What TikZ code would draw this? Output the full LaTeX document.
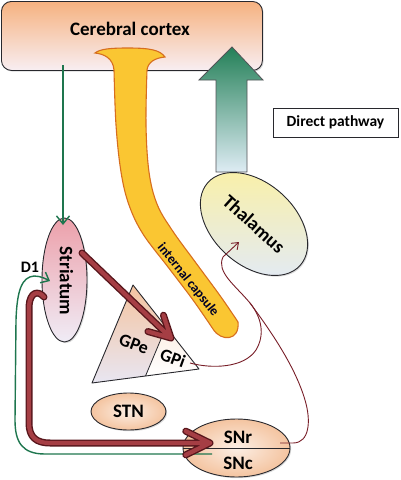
\documentclass[tikz,border=0pt]{standalone}
\usepackage{fontspec}
\setmainfont{Carlito}
\usetikzlibrary{shapes.geometric,calc,arrows.meta,shadows}
\definecolor{cortexTop}{RGB}{246,178,128}
\definecolor{cortexBot}{RGB}{248,238,242}
\definecolor{capFill}{RGB}{250,198,50}
\definecolor{capLine}{RGB}{215,110,30}
\definecolor{arrTop}{RGB}{36,128,88}
\definecolor{arrBot}{RGB}{222,236,244}
\definecolor{gline}{RGB}{30,118,78}
\definecolor{rOut}{RGB}{88,22,28}
\definecolor{rIn}{RGB}{165,62,68}
\definecolor{thinr}{RGB}{120,30,40}
\definecolor{edge}{RGB}{40,40,45}
\definecolor{thalY}{RGB}{250,240,165}
\definecolor{thalW}{RGB}{226,234,246}
\definecolor{strTop}{RGB}{236,160,170}
\definecolor{strBot}{RGB}{240,236,246}
\definecolor{peach}{RGB}{244,196,160}
\definecolor{peachL}{RGB}{252,238,228}
\definecolor{lav}{RGB}{232,230,242}
\begin{document}
\begin{tikzpicture}[x=1pt,y=-1pt,
  lbl/.style={font=\bfseries\fontsize{19}{21}\selectfont, text=black},
  shp/.style={draw=edge, line width=0.9pt},
  shd/.style={drop shadow={opacity=0.3, shadow xshift=1.2pt, shadow yshift=-1.2pt}},
  thickred/.style={line width=4.2pt, draw=rIn, line cap=round, line join=round,
    preaction={draw=rOut, line width=7pt, line cap=round, line join=round}},
  greenline/.style={draw=gline, line width=1.4pt},
  thinred/.style={draw=thinr, line width=0.9pt},
]
\useasboundingbox (0,0) rectangle (400,480);

% cerebral cortex
\node[shp, shd, rounded corners=10pt, minimum width=261, minimum height=69,
  top color=cortexTop, bottom color=cortexBot, anchor=north west, inner sep=0] (cortex) at (1,1) {};
\node[lbl] (cortexlbl) at (130,29) {Cerebral cortex};

% internal capsule
\path[fill=capFill, draw=capLine, line width=1.1pt]
  (95,53) .. controls (104,54) and (113,58) .. (114,70)
  -- plot[smooth, tension=0.6] coordinates {(114,70) (116,125) (121,172) (129,205) (143,234) (168,267) (193,300) (213,329)}
  .. controls (221,342) and (240,341) .. (238,322)
  -- plot[smooth, tension=0.6] coordinates {(238,322) (221,297) (196,263) (172,230) (157,204) (149,172) (146,125) (147,70)}
  .. controls (148,62) and (155,58) .. (165,57)
  .. controls (160,50) and (150,48) .. (128,48)
  .. controls (110,48) and (100,49) .. (95,53) -- cycle;
\node[font=\bfseries\fontsize{13.5}{15}\selectfont, text=black!85!blue, rotate=-51] (iclbl) at (188,280) {internal capsule};

% big green arrow (thalamus -> cortex)
\path[draw=edge!80, line width=0.8pt, top color=arrTop, bottom color=arrBot]
  (232,47) -- (263,80) -- (247,80) -- (247,172) -- (216,172) -- (216,80) -- (199,80) -- cycle;

% thalamus
\node[shp, shd, ellipse, minimum width=124, minimum height=82, rotate=-42,
  top color=thalY, bottom color=thalW, lbl, inner sep=0] (thal) at (254,224) {Thalamus};

% direct pathway
\node[draw=edge, line width=0.9pt, fill=white, shd, minimum width=125, minimum height=29,
  font=\bfseries\fontsize{15.5}{17}\selectfont] (dp) at (335.5,122.5) {Direct pathway};

% striatum
\node[shp, shd, ellipse, minimum width=45, minimum height=124,
  top color=strTop, bottom color=strBot] (str) at (64.5,280) {};
\node[lbl, rotate=-90] (strlbl) at (66.5,281) {Striatum};

% GPe / GPi
\coordinate (gA) at (133,285);
\coordinate (gB) at (92,383);
\coordinate (gC) at (199,369);
\coordinate (gM1) at ($(gA)!0.5!(gC)$);
\coordinate (gM2) at ($(gB)!0.5!(gC)$);
\path[top color=peach, bottom color=lav] (gA) -- (gB) -- (gC) -- cycle;
\path[top color=peachL, bottom color=white] (gM1) -- (gC) -- (gM2) -- cycle;
\draw[shp, line join=round] (gA) -- (gB) -- (gC) -- cycle;
\draw[edge, line width=0.8pt] (gM1) -- (gM2);
\node[lbl, font=\bfseries\fontsize{18}{20}\selectfont, rotate=-20] (gpe) at (134,344) {GPe};
\node[lbl, font=\bfseries\fontsize{18}{20}\selectfont, rotate=-20] (gpi) at (173,358) {GPi};

% STN
\node[shp, shd, ellipse, minimum width=75, minimum height=37,
  inner color=peachL, outer color=peach, lbl, inner sep=0] (stn) at (128.5,411.5) {STN};

% SNr / SNc
\node[shp, shd, ellipse, minimum width=107, minimum height=58,
  inner color=peachL, outer color=peach] (sn) at (236.5,448) {};
\draw[edge, line width=0.7pt] (sn.west) -- (sn.east);
\node[lbl] (snr) at (238,437) {SNr};
\node[lbl] (snc) at (238,463) {SNc};

% labels
\node[font=\bfseries\fontsize{16}{18}\selectfont] (d1) at (30,267) {D1};

% connectors
\coordinate (ctxout) at (63,65);
\coordinate (strtop) at (63,225);
\draw[greenline, -{Straight Barb[length=8pt,width=13pt]}] (ctxout) -- (strtop);

\coordinate (snout) at (212,454);
\coordinate (d1tip) at (50,281);
\draw[greenline, -{Straight Barb[length=7pt,width=12pt]}]
  (snout) -- (45,454) .. controls (22,454) and (15,442) .. (15,420)
  -- (16,320) .. controls (17,290) and (22,277) .. (34,276)
  .. controls (41,276) and (46,279) .. (d1tip);

\coordinate (strlow) at (44,297);
\coordinate (snrtip) at (210,443);
\draw[thickred] (strlow) .. controls (38,290) and (30,292) .. (29,306) -- (29,423)
  .. controls (29,437) and (36,443) .. (50,443) -- (snrtip)
  (snrtip) -- ($(snrtip)!27pt!26:(150,443)$)
  (snrtip) -- ($(snrtip)!27pt!-26:(150,443)$);

\coordinate (strout) at (82,253);
\coordinate (gpitip) at (171,338);
\draw[thickred] (strout) -- (gpitip)
  (gpitip) -- ($(gpitip)!24pt!28:(strout)$)
  (gpitip) -- ($(gpitip)!24pt!-28:(strout)$);

\coordinate (gpiout) at (190,363);
\coordinate (snrout) at (280,443);
\coordinate (merge) at (250,303);
\coordinate (thaltip) at (239,242);
\draw[thinred] (gpiout) .. controls (212,369) and (244,368) .. (256,350)
  .. controls (265,335) and (262,318) .. (merge);
\draw[thinred, -{Straight Barb[length=6pt,width=9pt]}]
  (snrout) -- (293,443) .. controls (310,443) and (311,420) .. (305,400)
  .. controls (295,366) and (270,330) .. (merge)
  .. controls (235,285) and (216,272) .. (223,257) -- (thaltip);
\end{tikzpicture}
\end{document}
